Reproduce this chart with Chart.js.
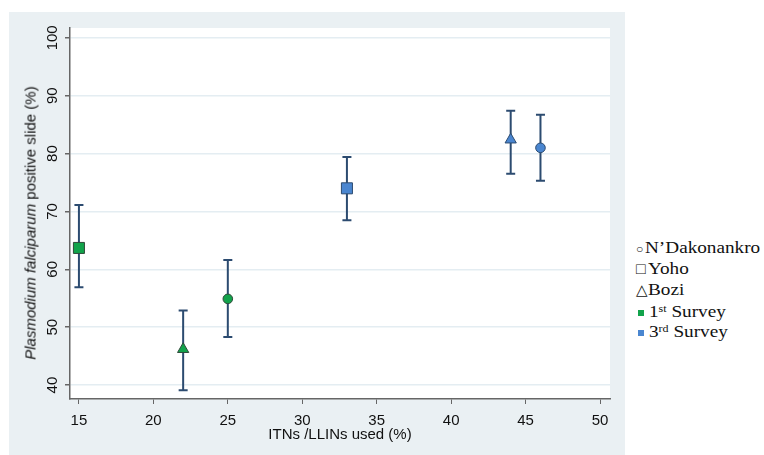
<!DOCTYPE html>
<html>
<head>
<meta charset="utf-8">
<script src="https://cdn.jsdelivr.net/npm/chart.js@4/dist/chart.umd.min.js"></script>
<style>
  body { margin: 0; background: #fff; width: 764px; height: 455px; position: relative; overflow: hidden; }
  #panel { position: absolute; left: 9px; top: 12px; width: 616px; height: 443px; background: #eaf0f3; }
  #yTitle { position: absolute; left: 30px; top: 223px; transform: translate(-50%, -50%) rotate(-90deg);
    white-space: nowrap; font-family: "Liberation Sans", Arial, sans-serif; font-size: 15px; color: #111; }
  .row { position: absolute; left: 636px; height: 21px; line-height: 21px; white-space: nowrap;
    font-family: "Liberation Serif", "Times New Roman", serif; font-size: 16px; color: #111; }
  .row .txt { display: inline-block; transform: scaleX(1.2); transform-origin: left center; }
  .row sup { font-size: 10px; vertical-align: 5px; line-height: 0; }
  .sym { display: inline-block; width: 12px; }
  .sw { display: inline-block; width: 6px; height: 6px; margin: 0 5px 1px 2px; }
</style>
</head>
<body>
<div id="panel"><canvas id="chart" width="616" height="443"></canvas></div>
<div id="yTitle"><i>Plasmodium falciparum</i> positive slide (%)</div>
<div class="row" style="top:237px"><span class="sym" style="font-size:12px;width:9px">○</span><span class="txt">N’Dakonankro</span></div>
<div class="row" style="top:258px"><span class="sym" style="font-size:16px">□</span><span class="txt">Yoho</span></div>
<div class="row" style="top:279px"><span class="sym" style="font-size:15px">△</span><span class="txt">Bozi</span></div>
<div class="row" style="top:301px"><span class="sw" style="background:#12a34b"></span><span class="txt">1<sup>st</sup> Survey</span></div>
<div class="row" style="top:321px"><span class="sw" style="background:#4a86d0"></span><span class="txt">3<sup>rd</sup> Survey</span></div>
<script>
// sites in each survey: Yoho, Bozi, N'Dakonankro
const sites = ['Yoho', 'Bozi', "N'Dakonankro"];
const siteShapes = ['rect', 'triangle', 'circle'];
const siteRadius = [7.8, 6.5, 4.8];

const itn1 = [15, 22, 25];
const pf1 = [63.7, 46.2, 54.9];
const lo1 = [56.9, 39.1, 48.3];
const hi1 = [71.1, 52.9, 61.6];

const itn3 = [33, 44, 46];
const pf3 = [74.0, 82.4, 81.0];
const lo3 = [68.5, 76.5, 75.3];
const hi3 = [79.4, 87.4, 86.7];

const xTicks = [15, 20, 25, 30, 35, 40, 45, 50];
const yTicks = [40, 50, 60, 70, 80, 90, 100];

const errLo = [lo1, lo3];
const errHi = [hi1, hi3];

const plotBg = {
  id: 'plotBg',
  beforeDraw(chart) {
    const { ctx, chartArea: a } = chart;
    ctx.save();
    ctx.fillStyle = '#ffffff';
    ctx.fillRect(a.left, a.top, a.right - a.left, a.bottom - a.top);
    ctx.restore();
  },
};

const errorBars = {
  id: 'errorBars',
  beforeDatasetsDraw(chart) {
    const { ctx, scales: { x, y } } = chart;
    ctx.save();
    ctx.strokeStyle = '#2c4b70';
    ctx.lineWidth = 2;
    chart.data.datasets.forEach((ds, i) => {
      ds.data.forEach((pt, j) => {
        const px = x.getPixelForValue(pt.x);
        const top = y.getPixelForValue(errHi[i][j]);
        const bot = y.getPixelForValue(errLo[i][j]);
        ctx.beginPath();
        ctx.moveTo(px, top); ctx.lineTo(px, bot);
        ctx.moveTo(px - 4.5, top); ctx.lineTo(px + 4.5, top);
        ctx.moveTo(px - 4.5, bot); ctx.lineTo(px + 4.5, bot);
        ctx.stroke();
      });
    });
    ctx.restore();
  },
};

// y tick labels read bottom-to-top, like the original
const yLabels = {
  id: 'yLabels',
  afterDraw(chart) {
    const { ctx, scales: { y } } = chart;
    ctx.save();
    ctx.fillStyle = '#111';
    ctx.font = '15px "Liberation Sans", Arial, sans-serif';
    ctx.textAlign = 'center';
    ctx.textBaseline = 'middle';
    y.ticks.forEach((t) => {
      ctx.save();
      ctx.translate(y.right - 17, y.getPixelForValue(t.value));
      ctx.rotate(-Math.PI / 2);
      ctx.fillText(String(t.value), 0, 0);
      ctx.restore();
    });
    ctx.restore();
  },
};

const toPoints = (xs, ys) => xs.map((v, i) => ({ x: v, y: ys[i] }));

new Chart(document.getElementById('chart'), {
  type: 'scatter',
  data: {
    datasets: [
      {
        label: '1st Survey',
        data: toPoints(itn1, pf1),
        backgroundColor: '#12a34b',
        borderColor: '#2f4a3a',
        borderWidth: 1,
        pointStyle: siteShapes,
        pointRadius: siteRadius,
      },
      {
        label: '3rd Survey',
        data: toPoints(itn3, pf3),
        backgroundColor: '#4a86d0',
        borderColor: '#2c4b70',
        borderWidth: 1,
        pointStyle: siteShapes,
        pointRadius: siteRadius,
      },
    ],
  },
  options: {
    responsive: false,
    animation: false,
    layout: { padding: { left: 11, top: 16, right: 15, bottom: 0 } },
    plugins: { legend: { display: false }, tooltip: { enabled: false } },
    scales: {
      x: {
        min: 14.4,
        max: 50.67,
        afterBuildTicks: (s) => { s.ticks = xTicks.map((v) => ({ value: v })); },
        afterFit: (s) => { s.height = 56; },
        grid: { drawOnChartArea: false, tickColor: '#666', tickLength: 5 },
        border: { color: '#666', width: 1.5 },
        ticks: { color: '#111', font: { family: 'Liberation Sans', size: 15 }, padding: 8, maxRotation: 0 },
        title: { display: true, text: 'ITNs /LLINs used (%)', color: '#111',
          font: { family: 'Liberation Sans', size: 15 }, padding: { top: 0, bottom: 11 } },
      },
      y: {
        min: 37.6,
        max: 101.7,
        afterBuildTicks: (s) => { s.ticks = yTicks.map((v) => ({ value: v })); },
        afterFit: (s) => { s.width = 50; },
        grid: { color: '#e4edf2', lineWidth: 1.5, tickColor: '#666', tickLength: 5 },
        border: { color: '#666', width: 1.5 },
        ticks: { display: false },
      },
    },
  },
  plugins: [plotBg, errorBars, yLabels],
});
</script>
</body>
</html>
